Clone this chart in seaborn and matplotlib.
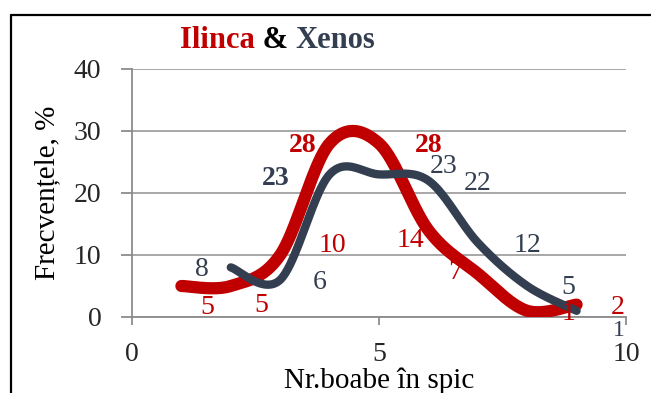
import numpy as np
import pandas as pd
import seaborn as sns
import matplotlib
matplotlib.use("Agg")
import matplotlib.pyplot as plt
from matplotlib.lines import Line2D

# ---- data ----
ilinca_x = [1, 2, 3, 4, 5, 6, 7, 8, 9]
ilinca_y = [5, 5, 10, 28, 28, 14, 7, 1, 2]
xenos_x = [2, 3, 4, 5, 6, 7, 8, 9]
xenos_y = [8, 6, 23, 23, 22, 12, 5, 1]
x_ticks = [0, 5, 10]
y_ticks = [0, 10, 20, 30, 40]

# label offsets (style, data units)
ilinca_off = [(0.52, -3.4), (0.61, -3.1), (1.05, 1.6), (-0.54, -0.3), (1.0, -0.3),
              (-0.37, -1.6), (-0.46, 0.1), (0.83, -0.4), (0.84, -0.4)]
ilinca_bold = [False, False, False, True, True, False, False, False, False]
xenos_off = [(-0.58, -0.4), (0.8, -0.4), (-1.1, -0.6), (1.3, 1.2), (1.0, -0.4),
             (1.0, -0.4), (0.83, -0.3), (0.85, -3.2)]
xenos_bold = [False, False, True, False, False, False, False, False]

RED = "#C00000"
SLATE = "#333F50"
FS = 20


def smooth(xs, ys, n=40):
    """Excel-like smoothed curve (cubic Bezier, Catmull-Rom control points)."""
    P = np.column_stack([xs, ys]).astype(float)
    pts = []
    for i in range(len(P) - 1):
        p0 = P[i - 1] if i > 0 else P[i]
        p1 = P[i]
        p2 = P[i + 1]
        p3 = P[i + 2] if i + 2 < len(P) else P[i + 1]
        c1 = p1 + (p2 - p0) / 6.0
        c2 = p2 - (p3 - p1) / 6.0
        t = np.linspace(0, 1, n, endpoint=(i == len(P) - 2))[:, None]
        seg = ((1 - t) ** 3) * p1 + 3 * ((1 - t) ** 2) * t * c1 + 3 * (1 - t) * t ** 2 * c2 + t ** 3 * p2
        pts.append(seg)
    pts = np.vstack(pts)
    return pts[:, 0], pts[:, 1]


sns.set_theme(style="white")
plt.rcParams["font.family"] = ["Liberation Serif", "DejaVu Serif"]

fig = plt.figure(figsize=(6.51, 3.93), dpi=100)
ax = fig.add_axes([132 / 651, 1 - 317 / 393, (626 - 132) / 651, (317 - 69) / 393])

rx, ry = smooth(ilinca_x, ilinca_y)
bx, by = smooth(xenos_x, xenos_y)
df_r = pd.DataFrame({"x": rx, "y": ry, "s": "Ilinca"})
df_b = pd.DataFrame({"x": bx, "y": by, "s": "Xenos"})

sns.lineplot(data=df_r, x="x", y="y", sort=False, estimator=None, color=RED,
             linewidth=8.8, ax=ax, solid_capstyle="round", zorder=3)
sns.lineplot(data=df_b, x="x", y="y", sort=False, estimator=None, color=SLATE,
             linewidth=6, ax=ax, solid_capstyle="round", zorder=4)

ax.set_xlim(0, 10)
ax.set_ylim(0, 40)
ax.set_xticks(x_ticks)
ax.set_yticks(y_ticks)
ax.set_xticklabels([str(v) for v in x_ticks])
ax.set_yticklabels([str(v) for v in y_ticks])
ax.yaxis.grid(True, color="#A0A0A0", linewidth=1.3)
ax.xaxis.grid(False)
ax.set_axisbelow(True)
for s in ["top", "right"]:
    ax.spines[s].set_visible(False)
for s in ["left", "bottom"]:
    ax.spines[s].set_color("#8C8C8C")
    ax.spines[s].set_linewidth(1.3)
ax.tick_params(axis="x", direction="out", length=6, width=1.3, color="#8C8C8C",
               labelsize=FS, pad=12, bottom=True)
ax.tick_params(axis="y", direction="out", length=8, width=1.3, color="#8C8C8C",
               labelsize=FS, pad=14, left=True)
ax.set_xlabel("Nr.boabe în spic", fontsize=21, labelpad=0, color="black")
ax.set_ylabel("Frecvențele, %", fontsize=21, labelpad=10, color="black")

for (x, y, (dx, dy), b) in zip(ilinca_x, ilinca_y, ilinca_off, ilinca_bold):
    ax.text(x + dx, y + dy, str(y), color=RED, fontsize=FS, ha="center", va="center",
            fontweight="bold" if b else "normal", zorder=5, clip_on=False)
for i, ((x, y, (dx, dy), b)) in enumerate(zip(xenos_x, xenos_y, xenos_off, xenos_bold)):
    ax.text(x + dx, y + dy, str(y), color=SLATE, fontsize=FS if i < len(xenos_x) - 1 else 17,
            ha="center", va="center",
            fontweight="bold" if b else "normal", zorder=5, clip_on=False)

# title in colored pieces
fig.canvas.draw()
renderer = fig.canvas.get_renderer()
x0 = 180 / 651
ty = 1 - 40 / 393
for txt, col in [("Ilinca", RED), (" & ", "black"), ("Xenos", SLATE)]:
    t = fig.text(x0, ty, txt, color=col, fontsize=22, fontweight="bold", va="center", ha="left")
    bb = t.get_window_extent(renderer=renderer)
    x0 += bb.width / fig.bbox.width

# chart frame (top & left visible)
fig.add_artist(Line2D([11 / 651, 1.0], [1 - 15 / 393, 1 - 15 / 393], color="black", linewidth=1.6,
                      transform=fig.transFigure))
fig.add_artist(Line2D([11 / 651, 11 / 651], [0, 1 - 15 / 393], color="black", linewidth=1.6,
                      transform=fig.transFigure))

fig.savefig("out.png", dpi=100)
